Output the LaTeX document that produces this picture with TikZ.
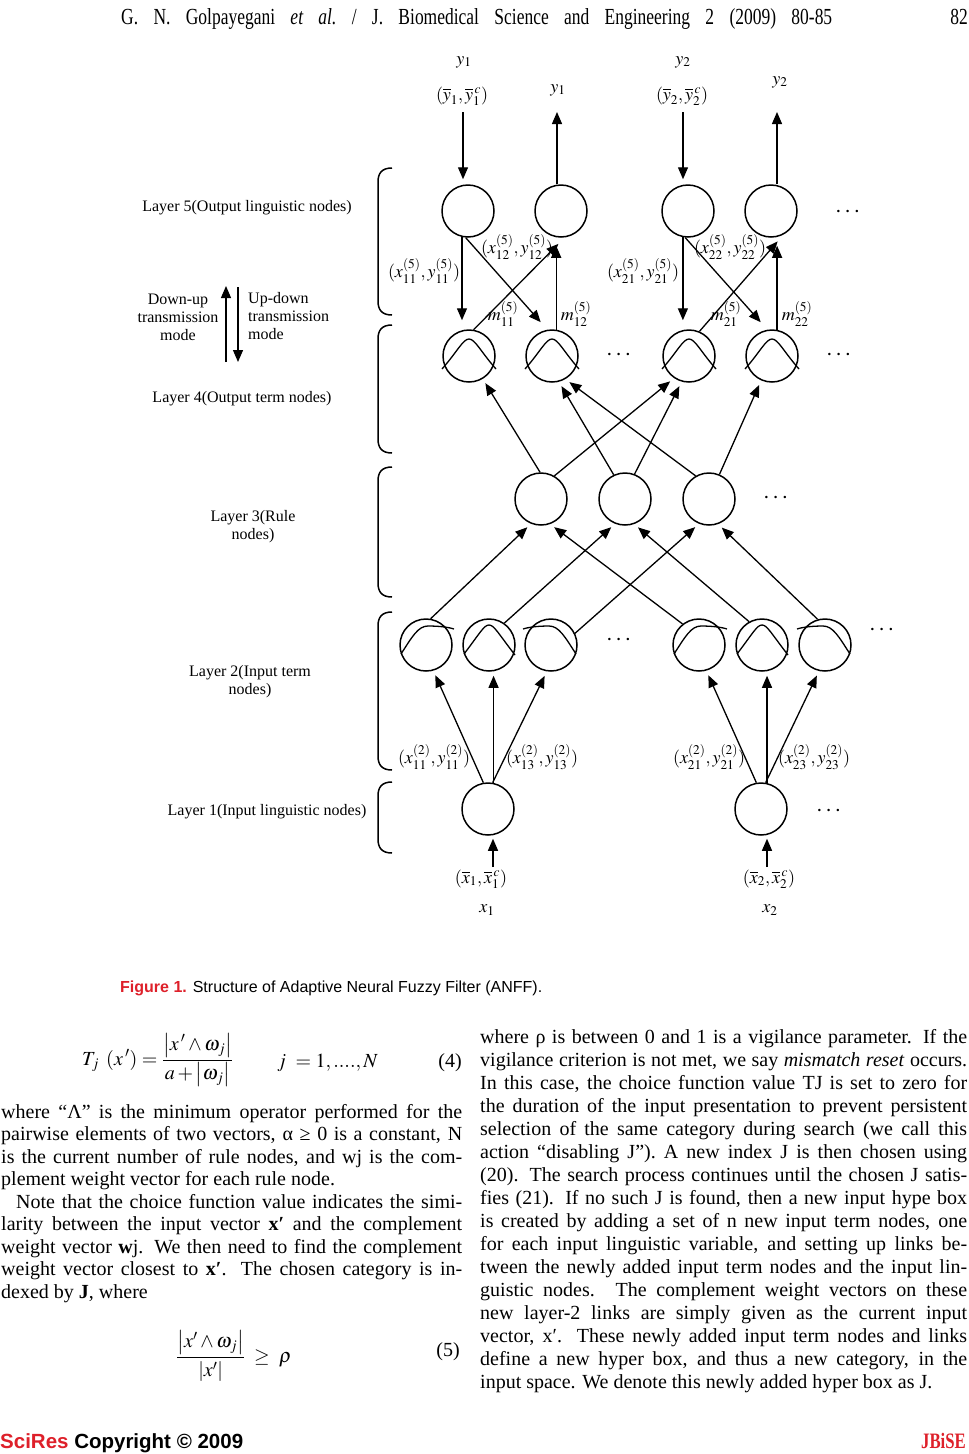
\documentclass[tikz,border=0pt]{standalone}
\usepackage{mathptmx}
\usepackage{amsmath}
\usepackage{fontspec}
\setmainfont{Liberation Serif}
\newfontfamily\sansf{Liberation Sans}
\newfontfamily\hdrf[FakeStretch=0.76]{Liberation Serif}
\usetikzlibrary{arrows.meta}
\definecolor{scired}{RGB}{222,32,42}
\newcommand\bodyfont{\fontsize{20}{23}\selectfont}
\newcommand\dfont{\fontsize{16}{19}\selectfont}
\newcommand\jl[2]{\makebox[#1pt][s]{#2}}
\begin{document}
\begin{tikzpicture}[x=1pt,y=-1pt,
  nd/.style={circle,draw,line width=1.5pt,minimum size=52pt,inner sep=0pt},
  ar/.style={-{Triangle[length=12pt,width=10pt]},line width=1.3pt},
  ln/.style={line width=1.3pt},
  dl/.style={font=\dfont,inner sep=0pt,align=center},
  ml/.style={font=\fontsize{18}{21}\selectfont,inner sep=0pt},
  bl/.style={font=\bodyfont,inner sep=0pt,anchor=base west},
  dots/.style={font=\fontsize{24}{24}\selectfont,inner sep=0pt},
  brk/.style={line width=1.5pt},
  hat/.pic={\draw[ln] (-25,9) .. controls (-9,-12) and (-5,-20) .. (0,-20) .. controls (5,-20) and (9,-12) .. (26,10);},
  lsh/.pic={\draw[ln] (-25,9) .. controls (-14,-8) and (-8,-19) .. (2,-19) .. controls (12,-19) and (22,-18) .. (28,-16);},
  rsh/.pic={\draw[ln] (25,9) .. controls (14,-8) and (8,-19) .. (-2,-19) .. controls (-12,-19) and (-22,-18) .. (-28,-16);},
  ohat/.pic={\draw[ln] (-27,13) .. controls (-12,-4) and (-6,-17) .. (0,-17) .. controls (6,-17) and (12,-4) .. (27,13);}
]
\useasboundingbox (0,0) rectangle (969,1454);
\fill[white] (0,0) rectangle (969,1454);

% header
\node[inner sep=0pt,anchor=base west] (hdr) at (121,24) {\hdrf\fontsize{23}{26}\selectfont\frenchspacing\jl{711}{G. N. Golpayegani \textit{et al.} / J. Biomedical Science and Engineering 2 (2009) 80-85}};
\node[inner sep=0pt,anchor=base east] (pg) at (968,24) {\hdrf\fontsize{23}{26}\selectfont 82};

% ---------- nodes ----------
\node[nd] (a1) at (468,211) {};
\node[nd] (a2) at (561,211) {};
\node[nd] (a3) at (688,211) {};
\node[nd] (a4) at (771,211) {};
\node[nd] (b1) at (469,356) {};
\node[nd] (b2) at (552,356) {};
\node[nd] (b3) at (689,356) {};
\node[nd] (b4) at (772,356) {};
\node[nd] (c1) at (541,499) {};
\node[nd] (c2) at (625,499) {};
\node[nd] (c3) at (709,499) {};
\node[nd] (d1) at (426,645) {};
\node[nd] (d2) at (489,645) {};
\node[nd] (d3) at (551,645) {};
\node[nd] (d4) at (699,645) {};
\node[nd] (d5) at (762,645) {};
\node[nd] (d6) at (825,645) {};
\node[nd] (e1) at (488,809) {};
\node[nd] (e2) at (761,809) {};

\pic at (b1) {ohat}; \pic at (b2) {ohat}; \pic at (b3) {ohat}; \pic at (b4) {ohat};
\pic at (d1) {lsh}; \pic at (d2) {hat}; \pic at (d3) {rsh};
\pic at (d4) {lsh}; \pic at (d5) {hat}; \pic at (d6) {rsh};

% dots
\node[dots] (dt5) at (849,212) {$\cdots$};
\node[dots] (dt4a) at (620,355) {$\cdots$};
\node[dots] (dt4b) at (840,355) {$\cdots$};
\node[dots] (dt3) at (777,498) {$\cdots$};
\node[dots] (dt2a) at (620,640) {$\cdots$};
\node[dots] (dt2b) at (883,630) {$\cdots$};
\node[dots] (dt1) at (830,811) {$\cdots$};

% ---------- top ----------
\node[ml] (ty1) at (464,62) {$y_1$};
\node[ml] (tb1) at (462,96) {$(\overline{y}_1,\overline{y}_1^{\,c})$};
\node[ml] (ty1b) at (558,90) {$y_1$};
\node[ml] (ty2) at (683,62) {$y_2$};
\node[ml] (tb2) at (682,96) {$(\overline{y}_2,\overline{y}_2^{\,c})$};
\node[ml] (ty2b) at (780,82) {$y_2$};
\coordinate (p1) at (463,112);
\coordinate (p2) at (557,112);
\coordinate (p3) at (683,112);
\coordinate (p4) at (777,112);
\draw[ar,shorten >=5pt] (p1) -- (p1 |- a1.north);
\draw[ar] (p2 |- a2.north) -- (p2);
\draw[ar,shorten >=5pt] (p3) -- (p3 |- a3.north);
\draw[ar] (p4 |- a4.north) -- (p4);

% ---------- layer 5 <-> layer 4 ----------
\draw[ar,shorten >=9pt] (a1.-103) -- (a1.-103 |- b1.north);
\draw[ar,shorten >=10pt] (a1.-95) -- (b2.100);
\draw[ar,shorten >=9pt] (b1.80) -- (a2.-82);
\draw[ar,shorten >=8pt] (b2.81) -- (b2.81 |- a2.south);
\draw[ar,shorten >=9pt] (a3.-101) -- (a3.-101 |- b3.north);
\draw[ar,shorten >=10pt] (a3.-96) -- (b4.100);
\draw[ar,shorten >=9pt] (b3.67) -- (a4.-62);
\draw[ar,shorten >=8pt] (b4.79) -- (b4.79 |- a4.south);

\node[ml] (l12) at (517,247) {$(x_{12}^{(5)},y_{12}^{(5)})$};
\node[ml] (l11) at (424,271) {$(x_{11}^{(5)},y_{11}^{(5)})$};
\node[ml] (m11) at (503,314) {$m_{11}^{(5)}$};
\node[ml] (m12) at (576,314) {$m_{12}^{(5)}$};
\node[ml] (l22) at (730,247) {$(x_{22}^{(5)},y_{22}^{(5)})$};
\node[ml] (l21) at (643,271) {$(x_{21}^{(5)},y_{21}^{(5)})$};
\node[ml] (m21) at (726,314) {$m_{21}^{(5)}$};
\node[ml] (m22) at (797,314) {$m_{22}^{(5)}$};

% ---------- layer 3 -> layer 4 ----------
\draw[ar,shorten >=5pt] (c1.92) -- (b1.-59);
\draw[ar,shorten >=5pt] (c1.60) -- (b3.-124);
\draw[ar,shorten >=5pt] (c2.115) -- (b2.-75);
\draw[ar,shorten >=5pt] (c2.69) -- (b3.-106);
\draw[ar,shorten >=5pt] (c3.120) -- (b2.-60);
\draw[ar,shorten >=5pt] (c3.67) -- (b4.-114);

% ---------- layer 2 -> layer 3 ----------
\draw[ar,shorten >=5pt] (d1.80) -- (c1.-112);
\draw[ar,shorten >=5pt] (d4.128) -- (c1.-70);
\draw[ar,shorten >=5pt] (d2.55) -- (c2.-112);
\draw[ar,shorten >=5pt] (d5.119) -- (c2.-70);
\draw[ar,shorten >=5pt] (d3.26) -- (c3.-112);
\draw[ar,shorten >=5pt] (d6.106) -- (c3.-70);

% ---------- layer 1 -> layer 2 ----------
\draw[ar,shorten >=5pt] (e1.100) -- (d1.-74);
\draw[ar,shorten >=4pt] (e1.78) -- (e1.78 |- d2.south);
\draw[ar,shorten >=5pt] (e1.80) -- (d3.-99);
\draw[ar,shorten >=5pt] (e2.100) -- (d4.-74);
\draw[ar,shorten >=4pt] (e2.77) -- (e2.77 |- d5.south);
\draw[ar,shorten >=5pt] (e2.80) -- (d6.-103);

\node[ml] (l211) at (434,757) {$(x_{11}^{(2)},y_{11}^{(2)})$};
\node[ml] (l213) at (542,757) {$(x_{13}^{(2)},y_{13}^{(2)})$};
\node[ml] (l221) at (709,757) {$(x_{21}^{(2)},y_{21}^{(2)})$};
\node[ml] (l223) at (814,757) {$(x_{23}^{(2)},y_{23}^{(2)})$};

% ---------- inputs ----------
\node[ml] (ib1) at (481,879) {$(\overline{x}_1,\overline{x}_1^{\,c})$};
\node[ml] (ix1) at (487,910) {$x_1$};
\node[ml] (ib2) at (769,879) {$(\overline{x}_2,\overline{x}_2^{\,c})$};
\node[ml] (ix2) at (770,910) {$x_2$};
\coordinate (q1) at (493,867);
\coordinate (q2) at (767,867);
\draw[ar,shorten >=3pt] (q1) -- (q1 |- e1.south);
\draw[ar,shorten >=3pt] (q2) -- (q2 |- e2.south);

% ---------- left labels ----------
\node[dl] (t5) at (247,208) {Layer 5(Output linguistic nodes)};
\node[dl] (tdu) at (178,317) {Down-up\\[-1pt]transmission\\[-1pt]mode};
\node[dl,align=left,anchor=west] (tud) at (248,316) {Up-down\\[-1pt]transmission\\[-1pt]mode};
\coordinate (u1) at (226,362); \coordinate (u2) at (226,286);
\coordinate (w1) at (238,287); \coordinate (w2) at (238,362);
\draw[ar] (u1) -- (u2);
\draw[ar] (w1) -- (w2);
\node[dl] (t4) at (242,399) {Layer 4(Output term nodes)};
\node[dl] (t3) at (253,527) {Layer 3(Rule\\[-1pt]nodes)};
\node[dl] (t2) at (250,682) {Layer 2(Input term\\[-1pt]nodes)};
\node[dl] (t1) at (267,812) {Layer 1(Input linguistic nodes)};

% brackets
\foreach \ya/\yb in {168/315, 325/453, 467/597, 612/770, 782/853}{
  \draw[brk] (392,\ya) .. controls (382,\ya) and (378,\ya+5) .. (378,\ya+14) -- (378,\yb-14) .. controls (378,\yb-5) and (382,\yb) .. (392,\yb);
}

% caption
\node[inner sep=0pt,anchor=base west] (cap) at (120,992) {\sansf\fontsize{16}{19}\selectfont\textcolor{scired}{\textbf{Figure 1.}} Structure of Adaptive Neural Fuzzy Filter (ANFF).};

% equations
\node[inner sep=0pt,anchor=west,font=\bodyfont] (eq4) at (82,1060) {$T_{j}\ \,(x\,')=\dfrac{\left|x\,'\wedge\omega_{j}\right|}{a+\left|\omega_{j}\right|}$};
\node[inner sep=0pt,anchor=west,font=\bodyfont] (eq4b) at (277,1063) {$j\ =1,....,N$};
\node[inner sep=0pt,anchor=east,font=\bodyfont] (eq4n) at (462,1063) {(4)};
\node[inner sep=0pt,anchor=west,font=\bodyfont] (eq5) at (176,1356) {$\dfrac{\left|x'\wedge\omega_{j}\right|}{\left|x'\right|}\;\geq\ \rho$};
\node[inner sep=0pt,anchor=east,font=\bodyfont] (eq5n) at (460,1352) {(5)};

% left column
\node[bl] (L1) at (1,1118) {\jl{461}{where “Λ” is the minimum operator performed for the}};
\node[bl] (L2) at (1,1140.5) {\jl{461}{pairwise elements of two vectors, α ≥ 0 is a constant, N}};
\node[bl] (L3) at (1,1163) {\jl{461}{is the current number of rule nodes, and wj is the com-}};
\node[bl] (L4) at (1,1185.5) {plement weight vector for each rule node.};
\node[bl] (L5) at (16,1208) {\jl{446}{Note that the choice function value indicates the simi-}};
\node[bl] (L6) at (1,1230.5) {\jl{461}{larity between the input vector \textbf{x′} and the complement}};
\node[bl] (L7) at (1,1253) {\jl{461}{weight vector \textbf{w}j. We then need to find the complement}};
\node[bl] (L8) at (1,1275.5) {\jl{461}{weight vector closest to \textbf{x′}. The chosen category is in-}};
\node[bl] (L9) at (1,1298) {dexed by \textbf{J}, where};

% right column
\node[bl] (R1) at (480,1043) {\jl{487}{where ρ is between 0 and 1 is a vigilance parameter. If the}};
\node[bl] (R2) at (480,1066) {\jl{487}{vigilance criterion is not met, we say \textit{mismatch reset} occurs.}};
\node[bl] (R3) at (480,1089) {\jl{487}{In this case, the choice function value TJ is set to zero for}};
\node[bl] (R4) at (480,1112) {\jl{487}{the duration of the input presentation to prevent persistent}};
\node[bl] (R5) at (480,1135) {\jl{487}{selection of the same category during search (we call this}};
\node[bl] (R6) at (480,1158) {\jl{487}{action “disabling J”). A new index J is then chosen using}};
\node[bl] (R7) at (480,1181) {\jl{487}{(20). The search process continues until the chosen J satis-}};
\node[bl] (R8) at (480,1204) {\jl{487}{fies (21). If no such J is found, then a new input hype box}};
\node[bl] (R9) at (480,1227) {\jl{487}{is created by adding a set of n new input term nodes, one}};
\node[bl] (R10) at (480,1250) {\jl{487}{for each input linguistic variable, and setting up links be-}};
\node[bl] (R11) at (480,1273) {\jl{487}{tween the newly added input term nodes and the input lin-}};
\node[bl] (R12) at (480,1296) {\jl{487}{guistic nodes. The complement weight vectors on these}};
\node[bl] (R13) at (480,1319) {\jl{487}{new layer-2 links are simply given as the current input}};
\node[bl] (R14) at (480,1342) {\jl{487}{vector, x′. These newly added input term nodes and links}};
\node[bl] (R15) at (480,1365) {\jl{487}{define a new hyper box, and thus a new category, in the}};
\node[bl] (R16) at (480,1388) {input space. We denote this newly added hyper box as J.};

% footer
\node[inner sep=0pt,anchor=base west] (ft) at (0,1448) {\sansf\bfseries\fontsize{20.5}{22}\selectfont\textcolor{scired}{SciRes} Copyright © 2009};
\node[inner sep=0pt,anchor=base east] (jb) at (966,1448) {\hdrf\bfseries\fontsize{22}{24}\selectfont\textcolor{scired}{JBiSE}};
\end{tikzpicture}
\end{document}
